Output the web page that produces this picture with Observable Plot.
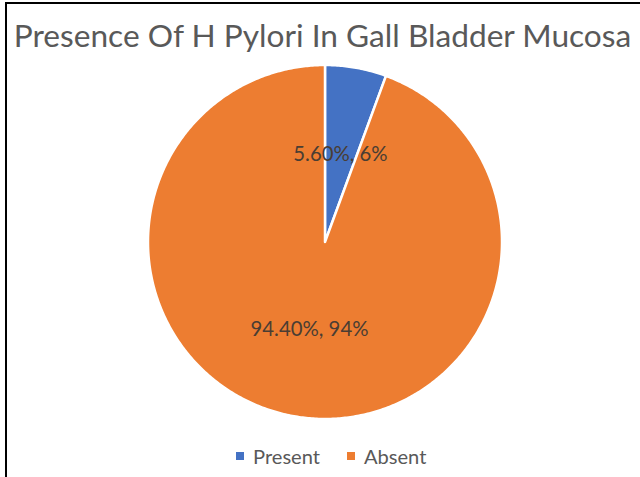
<!DOCTYPE html>
<html>
<head>
<meta charset="utf-8">
<script src="https://cdn.jsdelivr.net/npm/d3@7"></script>
<script src="https://cdn.jsdelivr.net/npm/@observablehq/plot@0.6"></script>
<style>
  html, body { margin: 0; padding: 0; background: #fff; }
  #wrap { position: relative; width: 640px; height: 477px; overflow: hidden; }
  #frame { position: absolute; left: 5px; top: 2px; width: 640px; height: 480px;
           border-top: 2px solid #000; border-left: 2px solid #000; box-sizing: border-box; }
  #title { position: absolute; left: 0; width: 645px; top: 16px; text-align: center;
           font-family: Lato, "Open Sans", sans-serif; color: #595959; white-space: nowrap; }
  #chart { position: absolute; left: 0; top: 60px; }
  #legend { position: absolute; top: 444px; left: 236px; display: flex; align-items: center;
            font-family: Lato, "Open Sans", sans-serif; color: #595959; white-space: nowrap; }
  .sw { display: inline-block; width: 8px; height: 8px; margin-right: 9px; }
  .item { display: flex; align-items: center; }
</style>
</head>
<body>
<div id="wrap">
  <div id="frame"></div>
  <div id="title"></div>
  <div id="chart"></div>
  <div id="legend"></div>
</div>
<script>
const title = "Presence Of H Pylori In Gall Bladder Mucosa";
const categories = ["Present", "Absent"];
const percents = [5.6, 94.4];
const roundedPercents = [6, 94];
const colors = ["#4472C4", "#ED7D31"];

// fit text widths to reference
const cv = document.createElement("canvas").getContext("2d");
function fit(text, family, target) {
  cv.font = `100px ${family}`;
  return 100 * target / cv.measureText(text).width;
}
const fam = "Lato";
const tEl = document.getElementById("title");
tEl.textContent = title;
tEl.style.fontSize = fit(title, fam, 619) + "px";

// pie geometry from data
const pie = d3.pie().sort(null).value(d => d.value)(
  categories.map((c, i) => ({ name: c, value: percents[i], rounded: roundedPercents[i] }))
);
const polys = [];
for (const s of pie) {
  const n = Math.max(2, Math.ceil((s.endAngle - s.startAngle) / 0.01));
  polys.push({ name: s.data.name, x: 0, y: 0 });
  for (let k = 0; k <= n; k++) {
    const a = s.startAngle + (s.endAngle - s.startAngle) * k / n;
    polys.push({ name: s.data.name, x: Math.sin(a), y: Math.cos(a) });
  }
}
const labels = pie.map(s => {
  const m = (s.startAngle + s.endAngle) / 2;
  return {
    name: s.data.name,
    x: 0.5 * Math.sin(m),
    y: 0.5 * Math.cos(m),
    text: `${s.data.value.toFixed(2)}%, ${s.data.rounded}%`
  };
});
const labelSize = fit("94.40%, 94%", fam, 118);

const cx = 324.5, cy = 181.5, R = 177;
const chart = Plot.plot({
  width: 640,
  height: 364,
  margin: 0,
  x: { type: "linear", domain: [-1, 1], range: [cx - R, cx + R], axis: null },
  y: { type: "linear", domain: [-1, 1], range: [cy + R, cy - R], axis: null },
  color: { domain: categories, range: colors },
  style: { background: "transparent" },
  marks: [
    Plot.line(polys, { x: "x", y: "y", z: "name", fill: "name", stroke: "white",
                       strokeWidth: 2.5, curve: "linear-closed", strokeLinejoin: "round" }),
    Plot.text(labels, { x: "x", y: "y", text: "text", fill: "#4a3d33",
                        fontSize: labelSize, fontFamily: fam })
  ]
});
document.getElementById("chart").appendChild(chart);

// legend
const lg = document.getElementById("legend");
const legSize = fit("Present", fam, 67);
categories.forEach((c, i) => {
  const it = document.createElement("div");
  it.className = "item";
  it.style.marginRight = i === 0 ? "27px" : "0";
  const sw = document.createElement("span");
  sw.className = "sw";
  sw.style.background = colors[i];
  const tx = document.createElement("span");
  tx.textContent = c;
  tx.style.fontSize = legSize + "px";
  it.appendChild(sw); it.appendChild(tx);
  lg.appendChild(it);
});
</script>
</body>
</html>
